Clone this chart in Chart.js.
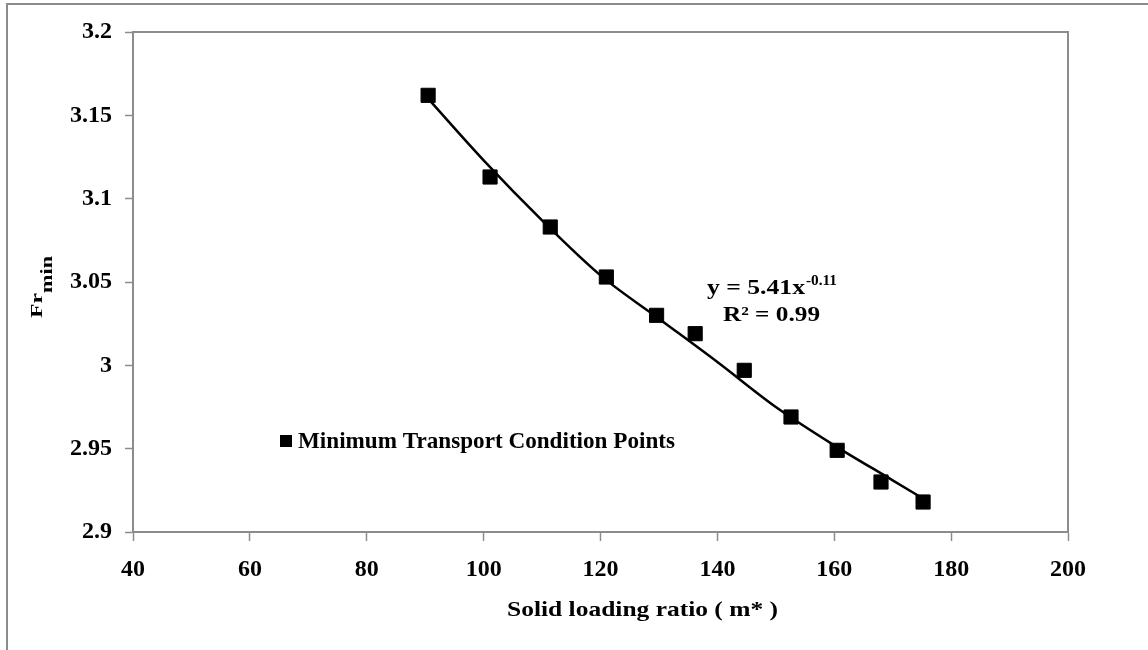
<!DOCTYPE html>
<html>
<head>
    <title>Fr min vs solid loading ratio</title>
    <style>
        html, body { margin: 0; padding: 0; background: #fff; }
        #wrap { width: 1148px; height: 650px; position: relative; }
    </style>
    <script src="https://cdn.jsdelivr.net/npm/chart.js@4.4.0/dist/chart.umd.min.js"></script>
</head>
<body>
    <div id="wrap"><canvas id="chartCanvas"></canvas></div>

    <script>
        // measured points (minimum transport condition)
        const loadingRatio = [90.5, 101.1, 111.4, 121.0, 129.6, 136.2, 144.6, 152.6, 160.5, 168.0, 175.2];
        const frMin = [3.162, 3.113, 3.083, 3.053, 3.030, 3.019, 2.997, 2.969, 2.949, 2.930, 2.918];

        // power trendline
        const trendX = [90.5, 100, 110, 120, 130, 140, 150, 160, 170, 175.2];
        const trendY = [3.160, 3.123, 3.087, 3.054, 3.028, 3.002, 2.975, 2.952, 2.931, 2.920];

        // axis ticks
        const xTicks = [40, 60, 80, 100, 120, 140, 160, 180, 200];
        const yTicks = [2.9, 2.95, 3, 3.05, 3.1, 3.15, 3.2];

        const seriesName = 'Minimum Transport Condition Points';
        const xTitle = 'Solid loading ratio ( m* )';
        const eqMain = 'y = 5.41x';
        const eqExp = '-0.11';
        const eqR2 = 'R\u00B2 = 0.99';

        const serif = "'Liberation Serif', 'Times New Roman', serif";
        const gray = '#8c8c8c';

        // helper: text squeezed/stretched to a given width
        function fitText(ctx, text, x, y, width) {
            const w = ctx.measureText(text).width;
            ctx.save();
            ctx.translate(x, y);
            ctx.scale(width / w, 1);
            ctx.fillText(text, 0, 0);
            ctx.restore();
        }

        const decorations = {
            id: 'decorations',
            beforeDraw(chart) {
                const ctx = chart.ctx;
                ctx.save();
                ctx.fillStyle = '#fff';
                ctx.fillRect(0, 0, chart.width, chart.height);
                // outer frame (only top and left visible)
                ctx.strokeStyle = gray;
                ctx.lineWidth = 2;
                ctx.beginPath();
                ctx.moveTo(chart.width, 4);
                ctx.lineTo(7, 4);
                ctx.lineTo(7, chart.height);
                ctx.stroke();
                ctx.restore();
            },
            afterDraw(chart) {
                const ctx = chart.ctx;
                const a = chart.chartArea;
                ctx.save();
                // plot area border top/right
                ctx.strokeStyle = gray;
                ctx.lineWidth = 2;
                ctx.beginPath();
                ctx.moveTo(a.left, a.top);
                ctx.lineTo(a.right, a.top);
                ctx.lineTo(a.right, a.bottom);
                ctx.stroke();

                ctx.fillStyle = '#000';
                ctx.textBaseline = 'alphabetic';
                ctx.textAlign = 'left';

                // x axis title
                ctx.font = 'bold 21px ' + serif;
                fitText(ctx, xTitle, 507, 616, 271);

                // y axis title Fr with subscript min
                ctx.save();
                ctx.translate(42, 318);
                ctx.rotate(-Math.PI / 2);
                ctx.save();
                ctx.scale(1, 0.78);
                ctx.font = 'bold 22px ' + serif;
                fitText(ctx, 'Fr', 0, 0, 25);
                ctx.restore();
                ctx.font = 'bold 17px ' + serif;
                fitText(ctx, 'min', 25, 10, 37);
                ctx.restore();

                // trendline equation
                ctx.font = 'bold 21px ' + serif;
                fitText(ctx, eqMain, 707, 294, 98);
                ctx.font = 'bold 14px ' + serif;
                fitText(ctx, eqExp, 806, 285, 31);
                ctx.font = 'bold 21px ' + serif;
                fitText(ctx, eqR2, 723, 321, 97);

                // legend inside plot
                ctx.fillRect(280, 435, 12, 12);
                ctx.font = 'bold 23px ' + serif;
                fitText(ctx, seriesName, 298, 448, 377);
                ctx.restore();
            }
        };

        const chartCanvas = document.getElementById('chartCanvas');

        const chart = new Chart(chartCanvas.getContext('2d'), {
            type: 'scatter',
            data: {
                datasets: [{
                    label: seriesName,
                    data: loadingRatio.map((x, i) => ({ x: x, y: frMin[i] })),
                    pointStyle: 'rect',
                    pointRadius: 10,
                    pointHoverRadius: 10,
                    backgroundColor: '#000',
                    borderColor: '#000',
                    borderWidth: 1,
                    order: 0
                }, {
                    label: 'Power trendline',
                    data: trendX.map((x, i) => ({ x: x, y: trendY[i] })),
                    showLine: true,
                    pointRadius: 0,
                    borderColor: '#000',
                    borderWidth: 2.5,
                    cubicInterpolationMode: 'monotone',
                    fill: false,
                    order: 1
                }]
            },
            options: {
                responsive: true,
                maintainAspectRatio: false,
                animation: false,
                layout: {
                    padding: { left: 0, top: 32, right: 80, bottom: 0 }
                },
                plugins: {
                    legend: { display: false },
                    tooltip: { enabled: false }
                },
                scales: {
                    x: {
                        type: 'linear',
                        min: 40,
                        max: 200,
                        afterBuildTicks: s => { s.ticks = xTicks.map(v => ({ value: v })); },
                        afterFit: s => { s.height = 118; },
                        grid: {
                            display: true,
                            drawOnChartArea: false,
                            drawTicks: true,
                            tickLength: 9,
                            tickWidth: 1.5,
                            tickColor: gray
                        },
                        border: { display: true, color: gray, width: 2 },
                        ticks: {
                            padding: 14,
                            color: '#000',
                            maxRotation: 0,
                            font: { family: serif, size: 24, weight: 'bold' }
                        }
                    },
                    y: {
                        type: 'linear',
                        min: 2.9,
                        max: 3.2,
                        afterBuildTicks: s => { s.ticks = yTicks.map(v => ({ value: v })); },
                        afterFit: s => { s.width = 133; },
                        grid: {
                            display: true,
                            drawOnChartArea: false,
                            drawTicks: true,
                            tickLength: 8,
                            tickWidth: 1.5,
                            tickColor: gray
                        },
                        border: { display: true, color: gray, width: 2 },
                        ticks: {
                            padding: 13,
                            color: '#000',
                            callback: v => String(+v.toFixed(2)),
                            font: { family: serif, size: 24, weight: 'bold' }
                        }
                    }
                }
            },
            plugins: [decorations]
        });
    </script>
</body>
</html>
